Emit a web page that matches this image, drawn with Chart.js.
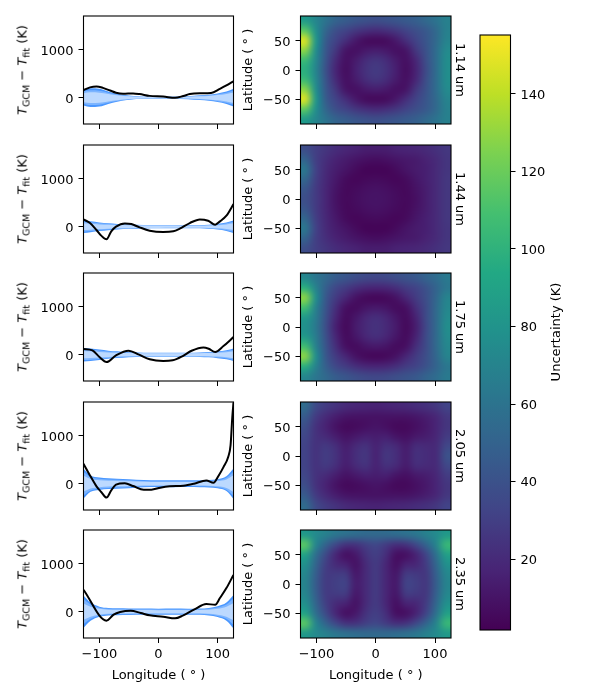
<!DOCTYPE html>
<html><head><meta charset="utf-8">
<style>
html,body{margin:0;padding:0;background:#fff;width:600px;height:700px;overflow:hidden}
canvas{position:absolute;display:block}
.rot{position:absolute;white-space:nowrap;font:13px "DejaVu Sans",sans-serif;color:#000;transform:translate(-50%,-50%) rotate(-90deg);line-height:1}
.rot sub{font-size:9.5px;font-style:normal;vertical-align:-3px;line-height:0}
</style>
<script src="https://cdn.jsdelivr.net/npm/chart.js@4/dist/chart.umd.min.js"></script>
</head><body>
<script>
const wavelengths = ["1.14 um","1.44 um","1.75 um","2.05 um","2.35 um"];
const lonTicks = [-100,0,100];
const diffTicks = [0,1000];
const latTicks = [-50,0,50];
const barTicks = [20,40,60,80,100,120,140];
const bandLon = [-127,-115,-100,-85,-70,-50,-25,0,25,50,70,85,100,115,127];

const bandOuter1 = [165,195,185,130,85,45,22,25,22,32,50,62,90,130,185];
const bandMid1   = [130,155,145,105,68,36,18,20,18,26,40,50,74,105,150];
const bandInner1 = [95,112,105,78,52,28,15,16,15,19,29,36,54,78,110];
const bandOuter2 = [130,115,90,72,58,45,36,33,30,30,32,42,60,90,130];
const bandMid2   = [104,92,72,60,48,38,32,29,27,26,27,34,48,72,104];
const bandInner2 = [70,62,48,42,34,30,27,25,23,22,21,25,32,48,70];
const bandOuter3 = [140,130,110,85,70,52,42,42,42,42,46,55,72,95,130];
const bandMid3   = [112,104,88,68,56,44,37,37,37,36,38,44,58,76,104];
const bandInner3 = [76,70,58,48,40,34,31,31,31,30,30,33,40,52,72];
const bandOuter4 = [310,170,130,112,105,95,75,70,72,70,72,78,95,155,320];
const bandMid4   = [245,140,105,88,82,72,55,50,52,50,52,58,75,125,255];
const bandInner4 = [165,100,72,60,56,50,40,36,38,36,38,42,55,90,175];
const bandOuter5 = [340,190,105,78,72,68,66,62,65,62,66,78,112,190,350];
const bandMid5   = [265,150,85,60,54,52,50,46,48,46,50,60,88,150,275];
const bandInner5 = [170,105,62,42,38,36,34,32,33,32,34,42,62,105,180];

const lineLon1 = [-127,-116,-105,-94,-82,-72,-60,-43,-32,-15,8,28,42,53,70,89,104,115,127];
const lineVal1 = [156,215,235,205,150,105,82,90,76,38,24,-3,35,75,92,100,185,255,343];
const lineLon2 = [-127,-116,-105,-97,-88,-80,-72,-57,-46,-32,-15,8,25,36,53,70,84,96,104,115,127];
const lineVal2 = [153,76,-69,-187,-264,-97,0,69,55,-14,-83,-111,-97,-42,76,153,125,42,111,229,472];
const lineLon3 = [-127,-112,-100,-88,-72,-51,-33,-15,8,24,41,56,76,85,96,110,127];
const lineVal3 = [118,90,-49,-153,-14,83,0,-97,-132,-118,-28,83,153,125,55,180,368];
const lineLon4 = [-127,-116,-105,-97,-88,-80,-72,-57,-43,-25,-12,3,19,42,60,81,93,102,110,118,122,125,127];
const lineVal4 = [416,173,-55,-173,-291,-139,-21,7,-49,-125,-125,-83,-55,-42,0,69,21,173,347,560,800,1400,1700];
const lineLon5 = [-127,-88,-76,-65,-47,-30,-15,8,28,42,60,81,96,104,115,127];
const lineVal5 = [458,-187,-62,-7,21,-28,-76,-104,-139,-76,42,160,146,285,493,770];

const gridLon = [-118.5,-101.6,-84.7,-67.7,-50.8,-33.9,-16.9,0,16.9,33.9,50.8,67.7,84.7,101.6,118.5];
const gridLat = [83.6,66.9,50.2,33.5,16.7,0,-16.7,-33.5,-50.2,-66.9,-83.6];

const unc1 = [
[85,72,60,50,46,42,40,38,40,42,45,48,54,60,68],
[116,78,52,38,32,26,22,20,22,26,32,38,44,54,68],
[146,84,46,32,22,12,6,5,6,12,22,32,42,54,70],
[128,78,44,26,10,8,12,14,12,8,10,26,40,56,74],
[105,74,42,20,8,13,21,25,21,13,8,18,38,56,76],
[98,72,40,17,7,15,24,28,24,15,7,16,36,56,76],
[105,74,42,20,8,13,21,25,21,13,8,18,38,56,76],
[128,78,44,26,10,8,12,14,12,8,10,26,40,56,74],
[146,84,46,32,22,12,6,5,6,12,22,32,42,54,70],
[116,78,52,38,32,26,22,20,22,26,32,38,44,54,68],
[85,72,60,50,46,42,40,38,40,42,45,48,54,60,68]];
const unc2 = [
[38,30,25,21,18,16,14,14,14,16,17,18,20,23,26],
[50,30,22,16,13,10,8,7,8,10,12,13,16,20,25],
[62,32,20,14,10,6,3,3,3,6,10,13,15,20,25],
[52,30,19,12,6,4,5,6,5,4,6,11,15,20,26],
[42,28,18,10,5,6,8,9,8,6,5,9,14,20,26],
[38,28,18,9,5,7,9,10,9,7,5,8,14,20,26],
[42,28,18,10,5,6,8,9,8,6,5,9,14,20,26],
[52,30,19,12,6,4,5,6,5,4,6,11,15,20,26],
[62,32,20,14,10,6,3,3,3,6,10,13,15,20,25],
[50,30,22,16,13,10,8,7,8,10,12,13,16,20,25],
[38,30,25,21,18,16,14,14,14,16,17,18,20,23,26]];
const unc3 = [
[72,62,54,46,42,38,35,34,35,38,41,44,50,56,64],
[98,70,48,34,28,22,18,17,18,22,28,32,40,50,62],
[128,78,44,28,18,9,5,4,5,9,18,28,38,52,70],
[108,70,42,22,8,6,10,12,10,6,8,22,36,54,72],
[84,66,40,18,6,11,18,22,18,11,6,16,36,54,74],
[78,64,38,15,5,13,20,24,20,13,5,14,34,54,76],
[84,66,40,18,6,11,18,22,18,11,6,16,36,54,74],
[108,70,42,22,8,6,10,12,10,6,8,22,36,54,72],
[128,78,44,28,18,9,5,4,5,9,18,28,38,52,70],
[98,70,48,34,28,22,18,17,18,22,28,32,40,50,62],
[72,62,54,46,42,38,35,34,35,38,41,44,50,56,64]];
const unc4 = [
[55,36,28,24,20,18,17,16,17,18,19,21,23,26,32],
[45,28,20,14,10,9,9,9,9,9,9,11,14,18,26],
[38,24,16,9,5,6,8,10,8,5,5,8,12,17,25],
[34,24,20,14,9,12,15,14,15,10,8,12,14,18,28],
[32,24,27,22,14,20,24,16,23,20,13,21,20,20,34],
[32,24,29,24,15,22,26,16,26,22,14,23,21,20,40],
[32,24,27,22,14,20,24,16,23,20,13,21,20,20,34],
[34,24,20,14,9,12,15,14,15,10,8,12,14,18,28],
[38,24,16,9,5,6,8,10,8,5,5,8,12,17,25],
[45,28,20,14,10,9,9,9,9,9,9,11,14,18,26],
[55,36,28,24,20,18,17,16,17,18,19,21,23,26,32]];
const unc5 = [
[84,74,68,62,58,56,54,54,54,56,58,62,68,74,84],
[115,72,50,34,24,24,30,34,28,22,24,34,50,70,104],
[90,58,36,18,8,12,24,30,22,8,8,16,32,58,88],
[78,52,30,20,16,9,20,28,18,8,16,18,28,52,78],
[72,48,28,28,28,12,20,28,18,11,28,27,26,48,72],
[70,46,28,30,32,14,20,28,18,12,32,30,26,46,70],
[72,48,28,28,28,12,20,28,18,11,28,27,26,48,72],
[78,52,30,20,16,9,20,28,18,8,16,18,28,52,78],
[90,58,36,18,8,12,24,30,22,8,8,16,32,58,88],
[115,72,50,34,24,24,30,34,28,22,24,34,50,70,104],
[84,74,68,62,58,56,54,54,54,56,58,62,68,74,84]];

const viridis = ["#440154","#482475","#414487","#355f8d","#2a788e","#21918c","#22a884","#44bf70","#7ad151","#bddf26","#fde725"];
const uncMin = 1.7, uncMax = 155.2;

const lineSets = [[lineLon1,lineVal1],[lineLon2,lineVal2],[lineLon3,lineVal3],[lineLon4,lineVal4],[lineLon5,lineVal5]];
const bandSets = [[bandInner1,bandMid1,bandOuter1],[bandInner2,bandMid2,bandOuter2],[bandInner3,bandMid3,bandOuter3],[bandInner4,bandMid4,bandOuter4],[bandInner5,bandMid5,bandOuter5]];
const uncSets = [unc1,unc2,unc3,unc4,unc5];
const bandColors = ["#bcd9ff","#7db5ff","#4a97ff"];

const FONT = {family:'"DejaVu Sans"',size:13};
const YFONT = {family:'"DejaVu Sans"',size:13,lineHeight:'3px'};
const panelTops = [15.5,144.5,272.5,401.5,529.5];
const panelH = 108.5;
Chart.defaults.font.family = '"DejaVu Sans"';
Chart.defaults.color = '#000';

function hexRgb(h){return [1,3,5].map(i=>parseInt(h.substr(i,2),16));}
function cmap(v){
  const t=Math.max(0,Math.min(1,(v-uncMin)/(uncMax-uncMin)))*(viridis.length-1);
  const i=Math.min(viridis.length-2,Math.floor(t)),f=t-i;
  const a=hexRgb(viridis[i]),b=hexRgb(viridis[i+1]);
  return a.map((c,k)=>Math.round(c+(b[k]-c)*f));
}
const minus = v => String(v).replace('-','\u2212');
const yLabel = v => ['',minus(v)];
const frame = {id:'frame',afterDraw(c){const a=c.chartArea,x=c.ctx;x.save();x.strokeStyle='#000';x.lineWidth=1.1;
  x.strokeRect(a.left,a.top,a.right-a.left,a.bottom-a.top);x.restore();}};
const heat = {id:'heat',beforeDatasetsDraw(c){
  const pts=c.data.datasets[0].data,cols=gridLon.length,rows=gridLat.length;
  const off=document.createElement('canvas');off.width=cols;off.height=rows;
  const o=off.getContext('2d'),im=o.createImageData(cols,rows);
  pts.forEach((p,i)=>{const rgb=cmap(p.v);im.data.set([rgb[0],rgb[1],rgb[2],255],i*4);});
  o.putImageData(im,0,0);
  const a=c.chartArea,x=c.ctx;x.save();x.imageSmoothingEnabled=true;x.imageSmoothingQuality='high';
  x.drawImage(off,a.left,a.top,a.right-a.left,a.bottom-a.top);x.restore();}};
const barFill = {id:'barFill',beforeDatasetsDraw(c){
  const a=c.chartArea,s=c.scales.y,x=c.ctx;
  const g=x.createLinearGradient(0,s.getPixelForValue(uncMin),0,s.getPixelForValue(uncMax));
  viridis.forEach((h,i)=>g.addColorStop(i/(viridis.length-1),h));
  x.save();x.fillStyle=g;x.fillRect(a.left,a.top,a.right-a.left,a.bottom-a.top);x.restore();},
  afterDraw(c){const x=c.ctx;x.save();x.translate(87,307);x.rotate(-Math.PI/2);x.font='13px "DejaVu Sans"';x.fillStyle='#000';
    x.textAlign='center';x.textBaseline='middle';x.fillText('Uncertainty (K)',0,0);x.restore();}};

function mkCanvas(l,t,w,h){const e=document.createElement('canvas');e.width=w;e.height=h;
  e.style.left=l+'px';e.style.top=t+'px';e.style.width=w+'px';e.style.height=h+'px';document.body.appendChild(e);return e;}
function fixTicks(list){return s=>{s.ticks=list.map(v=>({value:v}));};}
function fitTo(prop,val){return s=>{s[prop]=val;s.paddingTop=0;s.paddingBottom=0;s.paddingLeft=0;s.paddingRight=0;};}
function tickOpts(extra){return Object.assign({font:FONT,color:'#000',autoSkip:false,maxRotation:0,callback:minus},extra||{});}
function yTickOpts(){return tickOpts({font:YFONT,padding:5,callback:yLabel});}
const gridOpts = {drawOnChartArea:false,tickLength:5,tickColor:'#000',tickWidth:1};
function xScale(isLast,h){return {type:'linear',min:-127,max:127,afterBuildTicks:fixTicks(lonTicks),
  afterFit:fitTo('height',h),grid:gridOpts,border:{display:false},
  ticks:tickOpts({padding:4,callback:v=>isLast?minus(v):''}),
  title:{display:isLast,text:'Longitude ( \u00b0 )',font:FONT,color:'#000',padding:{top:4,bottom:0}}};}
const base = {responsive:false,animation:false,devicePixelRatio:1,plugins:{legend:{display:false},tooltip:{enabled:false}},events:[]};
const TOP=8;

panelTops.forEach((top,i)=>{
  const last=i===4,xh=last?45:6;
  const ds=[{data:lineSets[i][0].map((x,k)=>({x,y:lineSets[i][1][k]})),showLine:true,borderColor:'#000',borderWidth:2,pointRadius:0,cubicInterpolationMode:'monotone',fill:false}];
  bandSets[i].forEach((arr,b)=>{
    ds.push({data:bandLon.map((x,k)=>({x,y:arr[k]})),showLine:true,borderWidth:0,pointRadius:0,cubicInterpolationMode:'monotone',fill:'+1',backgroundColor:bandColors[b]});
    ds.push({data:bandLon.map((x,k)=>({x,y:-arr[k]})),showLine:true,borderWidth:0,pointRadius:0,cubicInterpolationMode:'monotone',fill:false});
  });
  new Chart(mkCanvas(0,top-TOP,237,panelH+TOP+xh),{type:'scatter',data:{datasets:ds},plugins:[frame],
    options:Object.assign({},base,{layout:{padding:{top:TOP,right:3.5,left:0,bottom:0}},scales:{
      x:xScale(last,xh),
      y:{type:'linear',min:-550,max:1708,afterBuildTicks:fixTicks(diffTicks),afterFit:fitTo('width',83.5),
         grid:gridOpts,border:{display:false},ticks:yTickOpts()}}})});
  const d=document.createElement('div');d.className='rot';d.style.left='22px';d.style.top=(top+panelH/2)+'px';
  d.innerHTML='<i>T</i><sub>GCM</sub> \u2212 <i>T</i><sub>fit</sub> (K)';document.body.appendChild(d);
  const cells=[];uncSets[i].forEach((row,r)=>row.forEach((v,c)=>cells.push({x:gridLon[c],y:gridLat[r],v})));
  new Chart(mkCanvas(237,top-TOP,230,panelH+TOP+xh),{type:'scatter',data:{datasets:[{data:cells,pointRadius:0,showLine:false}]},plugins:[heat,frame],
    options:Object.assign({},base,{layout:{padding:{top:TOP,left:0,right:0,bottom:0}},scales:{
      x:xScale(last,xh),
      y:{type:'linear',min:-92,max:92,afterBuildTicks:fixTicks(latTicks),afterFit:fitTo('width',63.5),
         grid:gridOpts,border:{display:false},ticks:yTickOpts(),
         title:{display:true,text:'Latitude ( \u00b0 )',font:FONT,color:'#000',padding:{top:4,bottom:0}}},
      yr:{type:'linear',position:'right',min:-92,max:92,afterFit:fitTo('width',16),
         grid:{display:false},border:{display:false},ticks:{display:false},
         title:{display:true,text:wavelengths[i],font:FONT,color:'#000',padding:{top:0,bottom:0}}}}})});
});

const barLevels=[uncMin,uncMax];
new Chart(mkCanvas(470,25,130,615),{type:'scatter',data:{datasets:[{data:barLevels.map(v=>({x:0,y:v})),pointRadius:0}]},plugins:[barFill,frame],
  options:Object.assign({},base,{layout:{padding:{top:10,left:10,right:0,bottom:10}},scales:{
    x:{type:'linear',min:0,max:1,display:false},
    y:{type:'linear',position:'right',min:uncMin,max:uncMax,afterBuildTicks:fixTicks(barTicks),afterFit:fitTo('width',89.5),
       grid:gridOpts,border:{display:false},ticks:yTickOpts()}}})});
</script>
</body></html>
